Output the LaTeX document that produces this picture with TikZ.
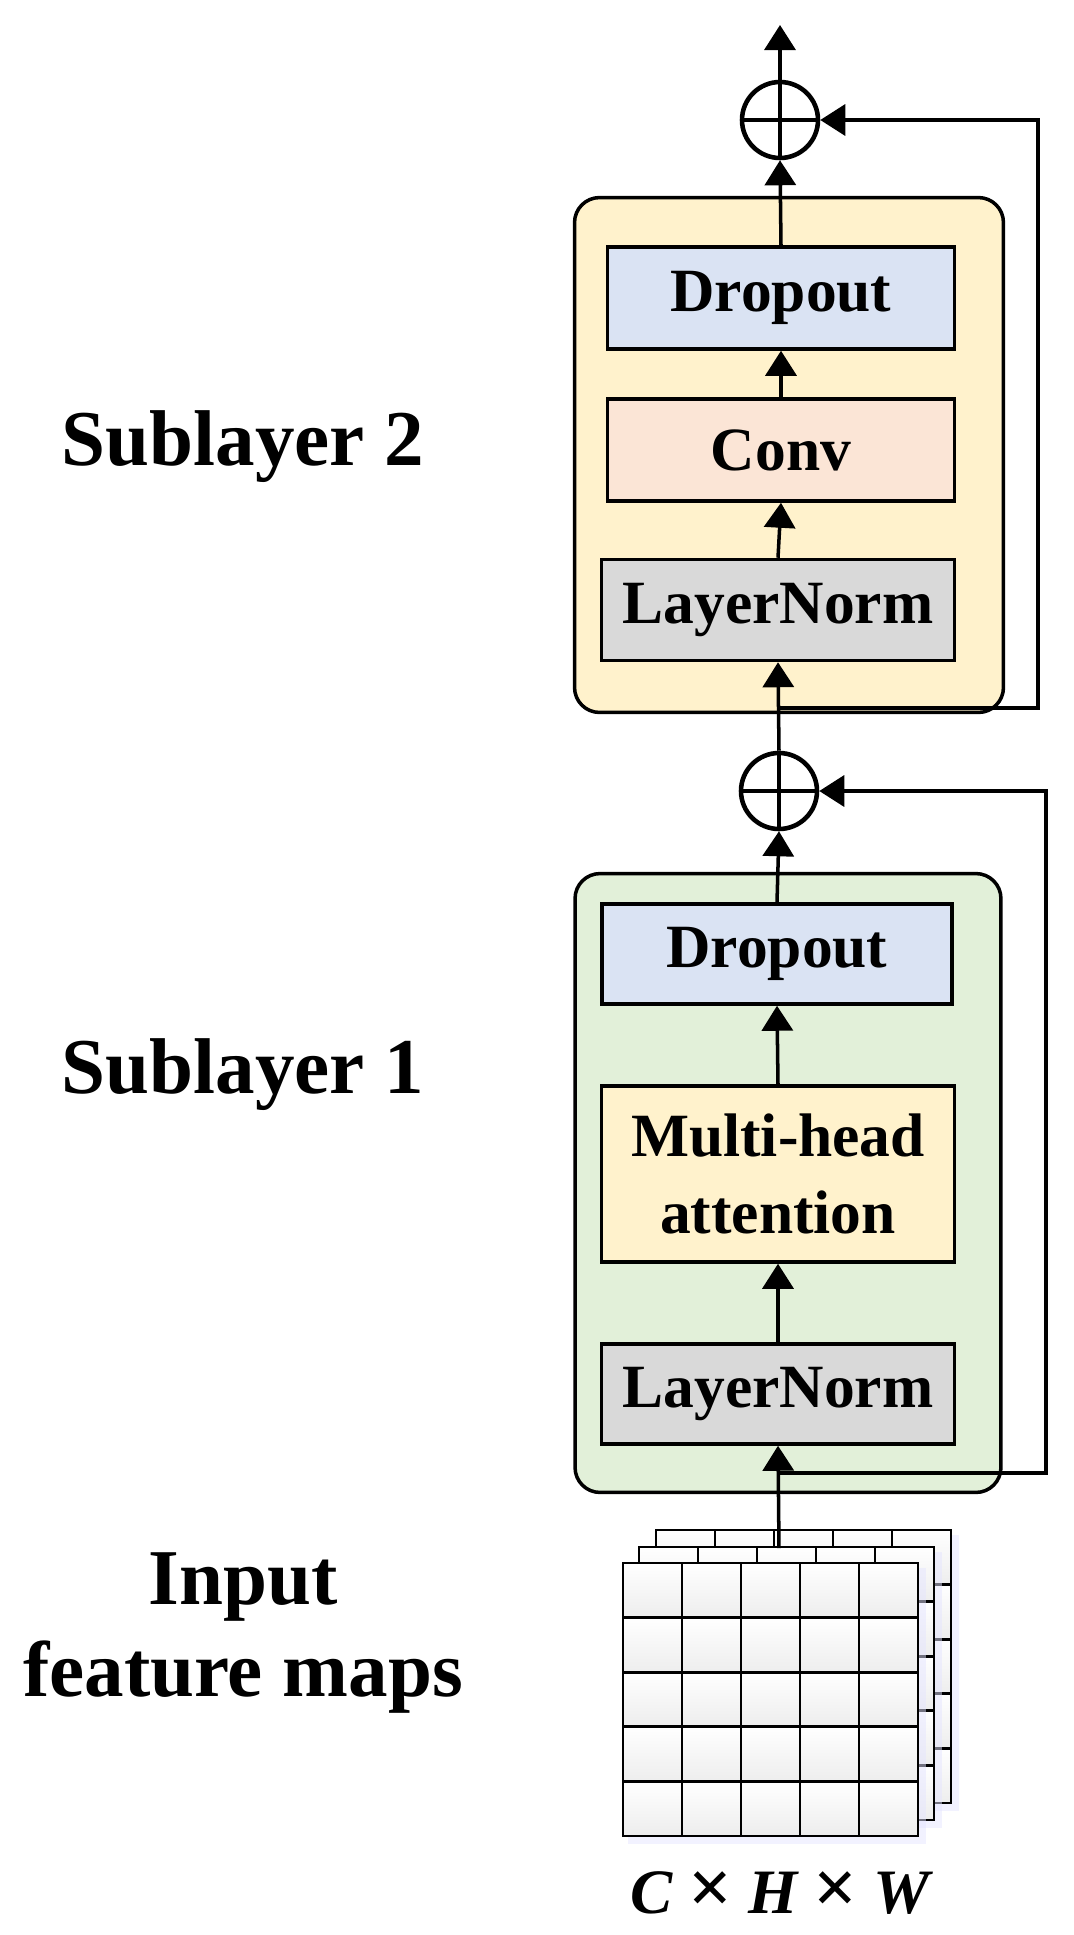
\documentclass[tikz,border=0pt]{standalone}
\usepackage{fontspec}
\setmainfont{Liberation Serif}
\usetikzlibrary{arrows.meta}
\definecolor{cyel}{HTML}{FFF2CC}
\definecolor{cblue}{HTML}{DAE3F3}
\definecolor{cconv}{HTML}{FBE5D6}
\definecolor{cgray}{HTML}{D9D9D9}
\definecolor{cgreen}{HTML}{E2F0D9}
\begin{document}
\begin{tikzpicture}[x=0.02cm,y=-0.02cm,
  lw/.style={line width=2pt},
  box/.style={draw,lw,font=\fontsize{35}{40}\selectfont\bfseries,align=center,inner sep=0pt},
  outer/.style={draw,lw,rounded corners=0.5cm,inner sep=0pt},
  arr/.style={lw,-{Triangle[width=0.62cm,length=0.5cm]}},
  lab/.style={font=\fontsize{45}{54}\selectfont\bfseries,align=center},
  plus/.style={draw,line width=2.6pt,circle,minimum size=1.52cm,inner sep=0pt,
    path picture={\draw[line width=2.6pt] (path picture bounding box.west)--(path picture bounding box.east)
      (path picture bounding box.north)--(path picture bounding box.south);}},
  cell/.style={draw,line width=1.6pt,top color=white,bottom color=gray!14}]
\useasboundingbox (0,0) rectangle (1073,1935);
% outer boxes
\node[outer,fill=cyel,minimum width=8.58cm,minimum height=10.3cm] (yb) at (789,455) {};
\node[outer,fill=cgreen,minimum width=8.52cm,minimum height=12.38cm] (gb) at (788,1183) {};
% sublayer 2
\node[box,fill=cblue,minimum width=6.94cm,minimum height=2.04cm] (d2) at (781,298) {Dropout};
\node[box,fill=cconv,minimum width=6.94cm,minimum height=2.04cm] (cv) at (781,450) {Conv};
\node[box,fill=cgray,minimum width=7.06cm,minimum height=2.02cm] (l2) at (778,610) {LayerNorm};
\node[plus] (p1) at (780,120) {};
\coordinate (top) at (780,25);
% sublayer 1
\node[box,fill=cblue,minimum width=7.0cm,minimum height=2.0cm] (d1) at (777,954) {Dropout};
\node[box,fill=cyel,minimum width=7.06cm,minimum height=3.52cm,font=\fontsize{35}{44}\selectfont\bfseries] (mh) at (778,1174) {Multi-head\\attention};
\node[box,fill=cgray,minimum width=7.06cm,minimum height=2.0cm] (l1) at (778,1394) {LayerNorm};
\node[plus] (p2) at (779,791) {};
% feature maps
\foreach \o in {33,16,0}{
  \begin{scope}[shift={(\o,-\o)}]
    \fill[blue!10,opacity=0.5] (628,1568) rectangle (926,1844);
    \foreach \i in {0,...,4}\foreach \j in {0,...,4}
      \draw[cell] (623+59*\i,1563+54.6*\j) rectangle ++(59,54.6);
  \end{scope}}
\coordinate (gt) at (779,1548);
\node[font=\fontsize{36}{40}\selectfont\bfseries\itshape] (dim) at (780,1893) {C {\upshape\fontsize{44}{40}\selectfont ×} H {\upshape\fontsize{44}{40}\selectfont ×} W};
% labels
\node[lab] (s2) at (243,447) {Sublayer 2};
\node[lab] (s1) at (243,1075) {Sublayer 1};
\node[lab] (in) at (243,1633) {Input\\[-2pt]feature maps};
% arrows
\draw[arr] (p1.north) -- (top);
\draw[arr] (d2.north) -- (p1.south);
\draw[arr] (cv.north) -- (d2.south);
\draw[arr] (l2.north) -- (cv.south);
\draw[arr] (p2.north) -- (l2.south);
\coordinate (k1) at (779,708); \coordinate (k1r) at (1038,708); \coordinate (k1t) at (1038,120);
\draw[arr] (k1) -- (k1r) -- (k1t) -- (p1.east);
\draw[arr] (d1.north) -- (p2.south);
\draw[arr] (mh.north) -- (d1.south);
\draw[arr] (l1.north) -- (mh.south);
\draw[arr] (gt) -- (l1.south);
\coordinate (k2) at (779,1473); \coordinate (k2r) at (1046,1473); \coordinate (k2t) at (1046,791);
\draw[arr] (k2) -- (k2r) -- (k2t) -- (p2.east);
\end{tikzpicture}
\end{document}
